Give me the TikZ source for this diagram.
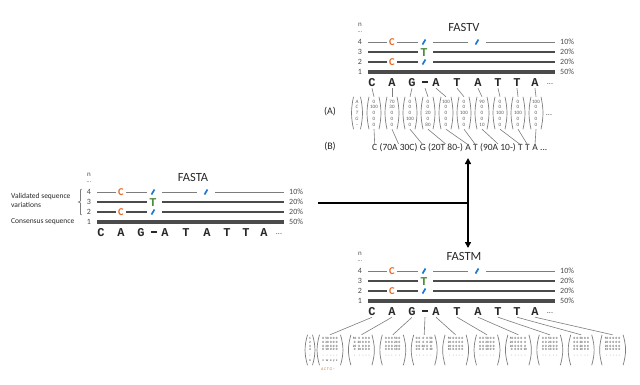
\documentclass[tikz,border=0pt]{standalone}
\usepackage{fontspec}
\setmainfont{Carlito}
\newfontfamily\seqfont{Liberation Mono}
\usetikzlibrary{arrows.meta}
\definecolor{corange}{RGB}{228,108,40}
\definecolor{cgreen}{RGB}{80,140,60}
\definecolor{cblue}{RGB}{30,120,210}
\definecolor{lgray}{RGB}{125,125,125}
\definecolor{dgray}{RGB}{75,75,75}
\definecolor{tgray}{RGB}{90,90,90}
\definecolor{txt}{RGB}{40,40,40}
\tikzset{
 ttl/.style={font=\fontsize{12.5}{14}\selectfont, inner sep=0pt, text=txt},
 num/.style={font=\fontsize{8}{9}\selectfont, inner sep=0pt, text=dgray},
 pct/.style={font=\fontsize{8}{9}\selectfont, inner sep=0pt, anchor=west, text=dgray},
 lbl/.style={font=\fontsize{7.5}{9}\selectfont, inner sep=0pt, anchor=west, text=txt},
 ln4/.style={draw=lgray, line width=0.9pt},
 ln23/.style={draw=dgray, line width=1.6pt},
 ln1/.style={draw=dgray, line width=3.8pt},
 cmk/.style={font=\fontsize{10.5}{12}\selectfont\bfseries, text=corange, inner sep=0pt},
 tmk/.style={font=\seqfont\bfseries\fontsize{12}{13}\selectfont, text=cgreen, inner sep=0pt},
 slashmk/.style={draw=cblue, line width=1.7pt},
 seqch/.style={font=\seqfont\bfseries\fontsize{12}{13}\selectfont, inner sep=1pt, text=txt},
 abl/.style={font=\fontsize{10}{12}\selectfont, inner sep=0pt, text=txt},
 btxt/.style={font=\fontsize{9.5}{11}\selectfont, inner sep=0pt, anchor=base west, text=txt},
 vec/.style={font=\fontsize{5}{5.8}\selectfont, text=tgray, align=center, inner sep=0pt, minimum width=12pt, minimum height=32pt},
 mxs/.style={font=\fontsize{3.3}{3.6}\selectfont\bfseries, text=tgray, inner sep=0pt, minimum width=23pt, minimum height=30pt},
 par/.style={draw=lgray, line width=0.7pt},
 conn/.style={draw=lgray, line width=0.6pt},
 bigline/.style={draw=black, line width=2pt},
 dblarrow/.style={draw=black, line width=1.5pt, {Triangle[width=6pt,length=6pt]}-{Triangle[width=6pt,length=6pt]}}
}
\newcommand\parens[2][20]{%
 \draw[par] ([xshift=1.2pt]#2.north west) to[bend right=#1] ([xshift=1.2pt]#2.south west);
 \draw[par] ([xshift=-1.2pt]#2.north east) to[bend left=#1] ([xshift=-1.2pt]#2.south east);}
\newcommand\gapdash{\rule[2.6pt]{5.5pt}{1.7pt}}
\newcommand\seqpanel[4]{%
\begin{scope}[shift={(#2,#3)}]
 \node[ttl] (#1-title) at (104,-15) {#4};
 \node[num, font=\fontsize{7}{8}\selectfont] (#1-n) at (0,-17) {n};
 \node[num, font=\fontsize{6}{7}\selectfont] (#1-nd) at (0,-10) {...};
 \foreach \k/\r in {4/0,3/10,2/20,1/30} {\node[num] (#1-k\k) at (0,\r) {\k};}
 \node[pct] (#1-p4) at (200,0) {10\%};
 \node[pct] (#1-p3) at (200,10) {20\%};
 \node[pct] (#1-p2) at (200,20) {20\%};
 \node[pct] (#1-p1) at (200,30) {50\%};
 \draw[ln4] (8,0) -- (27,0) (37,0) -- (58,0) (73,0) -- (108,0) (126,0) -- (195,0);
 \node[cmk] (#1-c4) at (32,0) {C};
 \draw[slashmk] (62.5,2.5) -- (65.5,-2.5);
 \draw[slashmk] (115.5,2.5) -- (118.5,-2.5);
 \draw[ln23] (8,10) -- (58,10) (73,10) -- (195,10);
 \node[tmk] (#1-t3) at (64,10.5) {T};
 \draw[ln23] (8,20) -- (27,20) (37,20) -- (58,20) (73,20) -- (195,20);
 \node[cmk] (#1-c2) at (32,20) {C};
 \draw[slashmk] (62.5,22.5) -- (65.5,17.5);
 \draw[ln1] (8,30) -- (195,30);
 \foreach \i/\x/\ch in {1/12/C,2/32/A,3/52/G,4/65/\gapdash,5/76/A,6/97/T,7/118/A,8/138/T,9/157/T,10/175/A}
  {\node[seqch, minimum height=10pt] (#1-L\i) at (\x,41) {\ch};}
 \node[num] (#1-ell) at (190,42) {...};
\end{scope}}
\newcommand\mxcols{@{}c@{\hspace{1.3pt}}c@{\hspace{1.3pt}}c@{\hspace{1.3pt}}c@{\hspace{1.3pt}}c@{}}
\newcommand\mxtail{\\[1.8pt] -&-&-&-&-\\[1.8pt]}
\begin{document}
\begin{tikzpicture}[x=1pt,y=-1pt]
\useasboundingbox (0,0) rectangle (640,384);
\fill[white] (0,0) rectangle (640,384);

% ---------- FASTA ----------
\seqpanel{a}{89}{192}{FASTA}
\node[lbl] (val1) at (11,196) {Validated sequence};
\node[lbl] (val2) at (11,205) {variations};
\node[lbl] (cons) at (11,222) {Consensus sequence};
\draw[lgray, line width=0.6pt] (82,189) -- (80.5,189.7) -- (80.5,201) -- (78.3,202) -- (80.5,203) -- (80.5,214.3) -- (82,215);

% ---------- FASTV ----------
\seqpanel{v}{360}{42}{FASTV}
\node[abl] (lblA) at (330,112) {(A)};
\node[abl] (lblB) at (330,147) {(B)};
\node[vec, minimum width=9pt, font=\fontsize{5}{5.8}\selectfont\itshape] (V0) at (357,113) {A\\C\\T\\G\\--};
\foreach \i/\x/\cnt in {1/374/{0\\100\\0\\0\\0},2/392/{70\\30\\0\\0\\0},3/410/{0\\0\\0\\100\\0},4/428/{0\\0\\20\\0\\80},5/446/{100\\0\\0\\0\\0},6/464/{0\\0\\100\\0\\0},7/482/{90\\0\\0\\0\\10},8/500/{0\\0\\100\\0\\0},9/518/{0\\0\\100\\0\\0},10/536/{100\\0\\0\\0\\0}}
 {\node[vec] (V\i) at (\x,113) {\cnt};}
\foreach \i in {0,...,10} {\parens[12]{V\i}}
\node[num] (Vell) at (549,115) {...};
\foreach \i in {1,...,10} {\draw[conn] (v-L\i.south) -- (V\i.north);}

\node[btxt] (b1) at (372,150) {C};
\node[btxt] (b2) at ([xshift=2pt]b1.base east) {(70A 30C)};
\node[btxt] (b3) at ([xshift=2pt]b2.base east) {G};
\node[btxt] (b4) at ([xshift=2pt]b3.base east) {(20T 80-)};
\node[btxt] (b5) at ([xshift=2pt]b4.base east) {A};
\node[btxt] (b6) at ([xshift=2pt]b5.base east) {T};
\node[btxt] (b7) at ([xshift=2pt]b6.base east) {(90A 10-)};
\node[btxt] (b8) at ([xshift=2pt]b7.base east) {T};
\node[btxt] (b9) at ([xshift=2pt]b8.base east) {T};
\node[btxt] (b10) at ([xshift=2pt]b9.base east) {A};
\node[btxt] (b11) at ([xshift=2pt]b10.base east) {...};
\foreach \i in {1,...,10} {\draw[conn] (V\i.south) -- ([yshift=-1pt]b\i.north);}

% ---------- joining arrow ----------
\coordinate (jstart) at (318,203);
\coordinate (hub) at (468,203);
\coordinate (atop) at (468,158);
\coordinate (abot) at (468,248);
\draw[bigline] (jstart) -- (hub);
\draw[dblarrow] (atop) -- (abot);

% ---------- FASTM ----------
\seqpanel{m}{360}{271}{FASTM}
\node[mxs, minimum width=7pt] (M0) at (310,350) {\begin{tabular}{@{}c@{}}1\\2\\3\\4\\[1.8pt] -\\[1.8pt] n\end{tabular}};
\node[mxs] (M1) at (330,350) {\begin{tabular}{\mxcols}0&50&0&0&0\\0&20&0&0&0\\0&20&0&0&0\\0&10&0&0&0\mxtail v&w&x&y&z\end{tabular}};
\node[mxs] (M2) at (361.4,350) {\begin{tabular}{\mxcols}50&0&0&0&0\\0&20&0&0&0\\20&0&0&0&0\\0&10&0&0&0\mxtail &&&&\end{tabular}};
\node[mxs] (M3) at (392.8,350) {\begin{tabular}{\mxcols}0&0&0&50&0\\0&0&0&20&0\\0&0&0&20&0\\0&0&0&10&0\mxtail &&&&\end{tabular}};
\node[mxs] (M4) at (424.2,350) {\begin{tabular}{\mxcols}0&0&0&0&50\\0&0&0&0&20\\0&0&20&0&0\\0&0&0&0&10\mxtail &&&&\end{tabular}};
\node[mxs] (M5) at (455.6,350) {\begin{tabular}{\mxcols}50&0&0&0&0\\20&0&0&0&0\\20&0&0&0&0\\10&0&0&0&0\mxtail &&&&\end{tabular}};
\node[mxs] (M6) at (487,350) {\begin{tabular}{\mxcols}0&0&50&0&0\\0&0&20&0&0\\0&0&20&0&0\\0&0&10&0&0\mxtail &&&&\end{tabular}};
\node[mxs] (M7) at (518.4,350) {\begin{tabular}{\mxcols}50&0&0&0&0\\20&0&0&0&0\\20&0&0&0&0\\0&0&0&0&10\mxtail &&&&\end{tabular}};
\node[mxs] (M8) at (549.8,350) {\begin{tabular}{\mxcols}0&0&50&0&0\\0&0&20&0&0\\0&0&20&0&0\\0&0&10&0&0\mxtail &&&&\end{tabular}};
\node[mxs] (M9) at (581.2,350) {\begin{tabular}{\mxcols}0&0&50&0&0\\0&0&20&0&0\\0&0&20&0&0\\0&0&10&0&0\mxtail &&&&\end{tabular}};
\node[mxs] (M10) at (612.6,350) {\begin{tabular}{\mxcols}50&0&0&0&0\\20&0&0&0&0\\20&0&0&0&0\\10&0&0&0&0\mxtail &&&&\end{tabular}};
\foreach \i in {0,...,10} {\parens[16]{M\i}}
\node[font=\fontsize{4}{5}\selectfont\itshape, text=corange!70!gray, inner sep=0pt] (Mlab) at (328,369) {A\,C\,T\,G\,--};
\foreach \i in {1,...,10} {\draw[conn] (m-L\i.south) -- (M\i.north);}
\end{tikzpicture}
\end{document}
